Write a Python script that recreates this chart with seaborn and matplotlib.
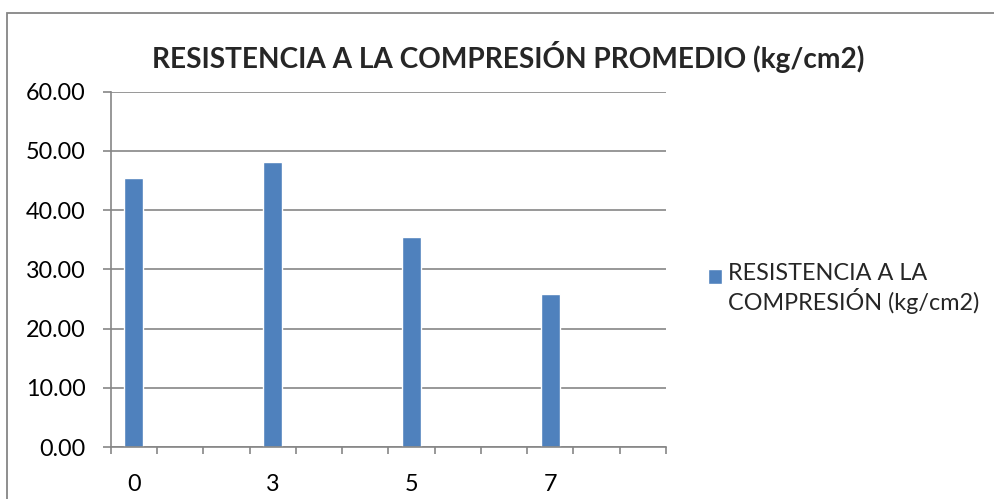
import numpy as np
import pandas as pd
import matplotlib
matplotlib.use("Agg")
import matplotlib.pyplot as plt
from matplotlib.patches import Rectangle
from matplotlib.legend_handler import HandlerPatch
from matplotlib.ticker import FixedLocator, FuncFormatter
import seaborn as sns

# ---- data ----
categories = ["0", "c1", "c2", "3", "c4", "c5", "5", "c7", "c8", "7", "c10", "c11"]
tick_labels = ["0", "", "", "3", "", "", "5", "", "", "7", "", ""]
bar_categories = ["0", "3", "5", "7"]
values = [45.4, 48.1, 35.5, 25.9]
series_name = "RESISTENCIA A LA\nCOMPRESIÓN (kg/cm2)"
title = "RESISTENCIA A LA COMPRESIÓN PROMEDIO (kg/cm2)"
y_ticks = [0, 10, 20, 30, 40, 50, 60]

df = pd.DataFrame({"cat": bar_categories, "val": values, "serie": series_name})

sns.set_style("white")
FONT = ["Lato", "DejaVu Sans"]
plt.rcParams["font.family"] = FONT

W, H = 995, 499
fig = plt.figure(figsize=(W / 100, H / 100), dpi=100)
ax = fig.add_axes([110.7 / W, 1 - 447.3 / H, (666 - 110.7) / W, (447.3 - 91.5) / H])

GRAY = "#868686"
BLUE = "#4F81BD"
FS = 16.8

sns.barplot(data=df, x="cat", y="val", hue="serie", order=categories,
            palette=[BLUE], width=0.41, dodge=False, ax=ax, saturation=1)

ax.set_xlim(-0.5, len(categories) - 0.5)
ax.set_ylim(0, 60)
ax.yaxis.set_major_locator(FixedLocator(y_ticks))
ax.yaxis.set_major_formatter(FuncFormatter(lambda v, p: f"{v:.2f}"))
ax.set_xticks(range(len(categories)))
ax.set_xticklabels(tick_labels)
ax.set_xticks(np.arange(-0.5, len(categories), 1.0), minor=True)
ax.set_xlabel("")
ax.set_ylabel("")

ax.grid(axis="y", color=GRAY, lw=1.2)
ax.set_axisbelow(True)
for s in ["top", "right"]:
    ax.spines[s].set_visible(False)
for s in ["left", "bottom"]:
    ax.spines[s].set_color(GRAY)
    ax.spines[s].set_linewidth(1.2)

ax.tick_params(axis="y", which="major", length=6, width=1.2, color=GRAY,
               direction="out", left=True, pad=12, labelsize=FS, labelcolor="black")
ax.tick_params(axis="x", which="major", length=0, pad=19, labelsize=FS, labelcolor="black")
ax.tick_params(axis="x", which="minor", length=5, width=1.2, color=GRAY,
               direction="out", bottom=True)


def top_aligned_patch(legend, orig_handle, xdescent, ydescent, width, height, fontsize):
    # place the legend square next to the first text line
    return Rectangle((-xdescent, -ydescent + 0.55 * fontsize), width, height)


handles, labels = ax.get_legend_handles_labels()
ax.legend(handles, labels, loc="upper left", bbox_to_anchor=(708 / W, 1 - 263 / H),
          bbox_transform=fig.transFigure, frameon=False, fontsize=FS,
          handlelength=0.6, handleheight=0.6, handletextpad=0.25,
          borderpad=0, borderaxespad=0, labelspacing=0.3,
          handler_map={Rectangle: HandlerPatch(patch_func=top_aligned_patch)})

# title
fig.text(508 / W, 1 - 57 / H, title, ha="center", va="center",
         fontsize=20.2, fontweight="bold", family=FONT)

# outer chart border
fig.patches.append(Rectangle((7.5 / W, -0.1), 1.2, (H - 12.7) / H + 0.1,
                             transform=fig.transFigure, fill=False,
                             edgecolor=GRAY, lw=1.3))

fig.savefig("out.png", dpi=100)
